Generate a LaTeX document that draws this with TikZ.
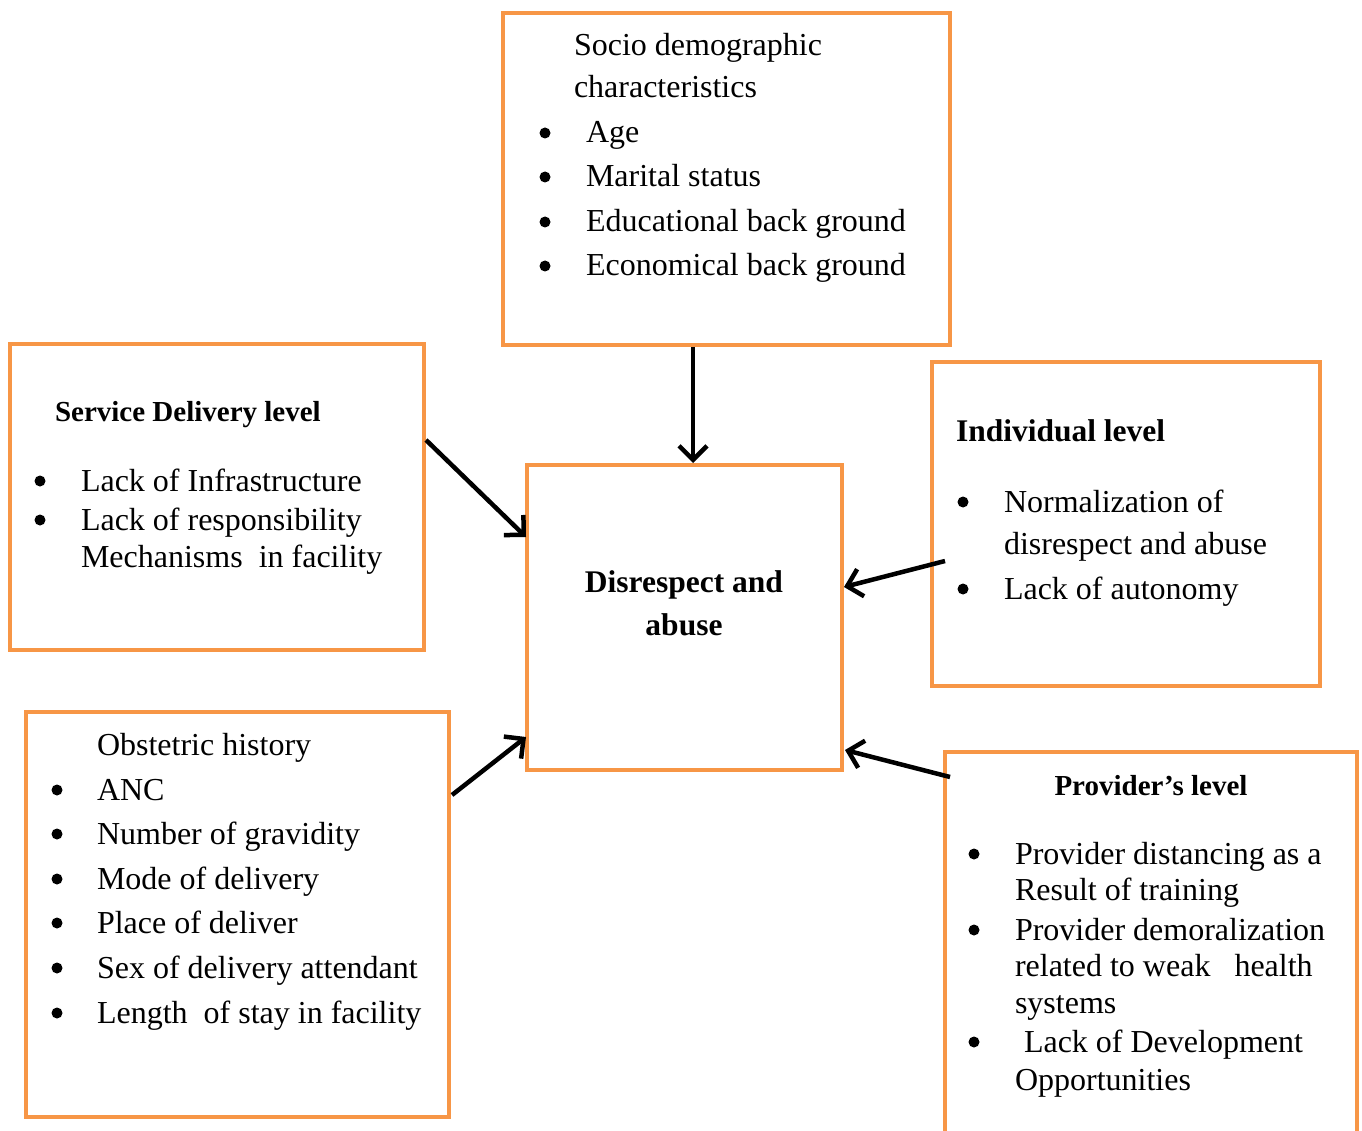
\documentclass[tikz,border=0pt]{standalone}
\usepackage{fontspec}
\setmainfont{Liberation Serif}
\usetikzlibrary{arrows.meta}
\definecolor{boxorange}{HTML}{F79646}
\begin{document}
\begin{tikzpicture}[x=1pt,y=-1pt,
  box/.style={draw=boxorange,line width=4pt,rectangle,inner sep=0pt,outer sep=0pt,anchor=north west},
  txt/.style={inner sep=0pt,outer sep=0pt,anchor=base west,font=\fontsize{32}{38}\selectfont},
  hd/.style={inner sep=0pt,outer sep=0pt,anchor=base west,font=\fontsize{29}{35}\selectfont\bfseries},
  hdc/.style={inner sep=0pt,outer sep=0pt,anchor=base,font=\fontsize{31.5}{38}\selectfont\bfseries},
  bul/.style={circle,fill=black,inner sep=0pt,outer sep=0pt,minimum size=11pt},
  arr/.style={line width=4.5pt,-{Straight Barb[length=14pt,width=28pt,line width=4.5pt]}}]
\useasboundingbox (0,0) rectangle (1362,1131);
% boxes
\node[box,minimum width=447pt,minimum height=332pt] (socio) at (503,13) {};
\node[box,minimum width=414pt,minimum height=306pt] (service) at (10,344) {};
\node[box,minimum width=388pt,minimum height=324pt] (indiv) at (932,362) {};
\node[box,minimum width=315pt,minimum height=305pt] (center) at (527,465) {};
\node[box,minimum width=423pt,minimum height=405pt] (obst) at (26,712) {};
\node[box,minimum width=412pt,minimum height=393pt] (prov) at (945,752) {};
% socio text
\node[txt] (s0) at (574,56) {Socio demographic};
\node[txt] (s0b) at (574,98) {characteristics};
\node[bul] (sb1) at (545,133) {};
\node[txt] (s1) at (586,143) {Age};
\node[bul] (sb2) at (545,177) {};
\node[txt] (s2) at (586,187) {Marital status};
\node[bul] (sb3) at (545,222) {};
\node[txt] (s3) at (586,232) {Educational back ground};
\node[bul] (sb4) at (545,266) {};
\node[txt] (s4) at (586,276) {Economical back ground};
% service text
\node[hd] (v0) at (55,421) {Service Delivery level};
\node[bul] (vb1) at (40,481) {};
\node[txt] (v1) at (81,491) {Lack of Infrastructure};
\node[bul] (vb2) at (40,520) {};
\node[txt] (v2) at (81,530) {Lack of responsibility};
\node[txt] (v3) at (81,567) {Mechanisms \ in facility};
% individual text
\node[hdc,anchor=base west] (i0) at (956,441) {Individual level};
\node[bul] (ib1) at (963,502) {};
\node[txt] (i1) at (1004,512) {Normalization of};
\node[txt] (i2) at (1004,554) {disrespect and abuse};
\node[bul] (ib2) at (963,589) {};
\node[txt] (i3) at (1004,599) {Lack of autonomy};
% center text
\node[hdc] (c1) at (684,592) {Disrespect and};
\node[hdc] (c2) at (684,635) {abuse};
% obstetric text
\node[txt] (o0) at (97,755) {Obstetric history};
\node[bul] (ob1) at (57,790) {};
\node[txt] (o1) at (97,800) {ANC};
\node[bul] (ob2) at (57,834) {};
\node[txt] (o2) at (97,844) {Number of gravidity};
\node[bul] (ob3) at (57,879) {};
\node[txt] (o3) at (97,889) {Mode of delivery};
\node[bul] (ob4) at (57,923) {};
\node[txt] (o4) at (97,933) {Place of deliver};
\node[bul] (ob5) at (57,968) {};
\node[txt] (o5) at (97,978) {Sex of delivery attendant};
\node[bul] (ob6) at (57,1013) {};
\node[txt] (o6) at (97,1023) {Length \ of stay in facility};
% provider text
\node[hd,anchor=base] (p0) at (1151,795) {Provider’s level};
\node[bul] (pb1) at (974,854) {};
\node[txt] (p1) at (1015,864) {Provider distancing as a};
\node[txt] (p2) at (1015,900) {Result of training};
\node[bul] (pb2) at (974,930) {};
\node[txt] (p3) at (1015,940) {Provider demoralization};
\node[txt] (p4) at (1015,976) {related to weak \ \ health};
\node[txt] (p5) at (1015,1013) {systems};
\node[bul] (pb3) at (974,1042) {};
\node[txt] (p6) at (1024,1052) {Lack of Development};
\node[txt] (p7) at (1015,1090) {Opportunities};
% arrows
\draw[arr] ([xshift=-33.5pt,yshift=-2pt]socio.south) -- ([xshift=8.5pt,yshift=2pt]center.north);
\draw[arr] ([xshift=2pt,yshift=57pt]service.east) -- ([xshift=-1pt,yshift=80.5pt]center.west);
\draw[arr] ([xshift=13pt,yshift=-37pt]indiv.west) -- ([xshift=2pt,yshift=30.5pt]center.east);
\draw[arr] ([xshift=3pt,yshift=119.5pt]obst.east) -- ([xshift=-1pt,yshift=-119.5pt]center.west);
\draw[arr] ([xshift=5pt,yshift=171.5pt]prov.west) -- ([xshift=3pt,yshift=-132.5pt]center.east);
\end{tikzpicture}
\end{document}
